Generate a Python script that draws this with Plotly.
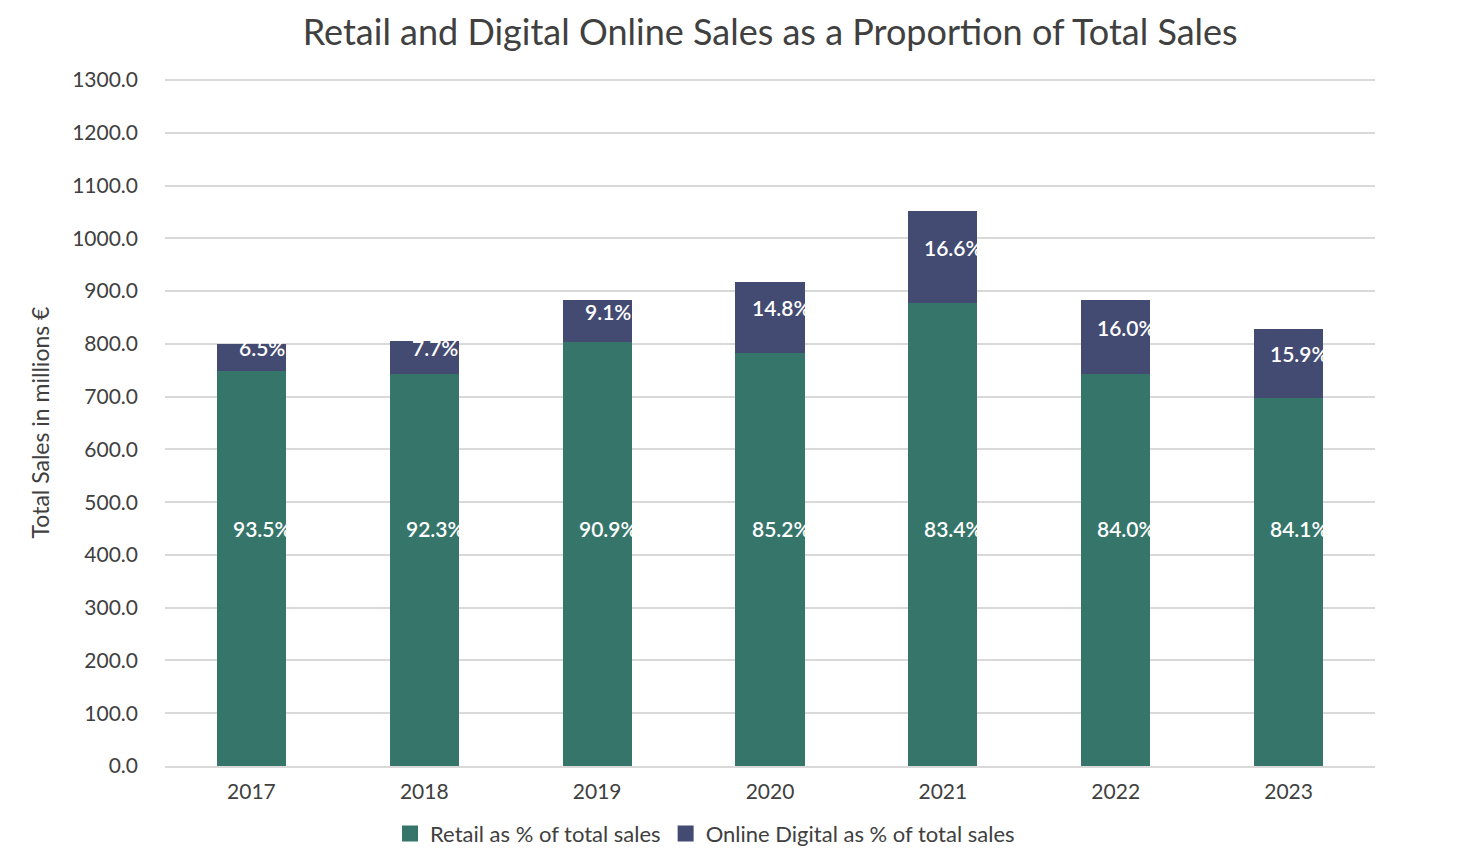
import plotly.graph_objects as go

years = ["2017", "2018", "2019", "2020", "2021", "2022", "2023"]
retail = [748, 743, 803, 782, 877, 742, 697]
online = [52, 62, 80, 136, 175, 141, 132]
retail_labels = ["93.5%", "92.3%", "90.9%", "85.2%", "83.4%", "84.0%", "84.1%"]
online_labels = ["6.5%", "7.7%", "9.1%", "14.8%", "16.6%", "16.0%", "15.9%"]
y_ticks = [i * 100 for i in range(14)]
series_names = ["Retail as % of total sales", "Online Digital as % of total sales"]

GREEN = "#35756A"
NAVY = "#444B72"
FONT = "Lato"
TXT = "#404040"

xpos = list(range(len(years)))

fig = go.Figure()
fig.add_trace(go.Bar(x=xpos, y=retail, name=series_names[0], width=0.4, showlegend=False,
                     marker=dict(color=GREEN, line=dict(width=0))))
fig.add_trace(go.Bar(x=xpos, y=online, name=series_names[1], width=0.4, showlegend=False,
                     marker=dict(color=NAVY, line=dict(width=0))))
# legend entries with larger square swatches
for name, col in zip(series_names, [GREEN, NAVY]):
    fig.add_trace(go.Scatter(x=[None], y=[None], mode="markers", name=name,
                             marker=dict(symbol="square", size=19, color=col,
                                         line=dict(width=0))))

annotations = []
lab_font = dict(family=FONT, size=21, color="white", weight=600)
for i in xpos:
    annotations.append(dict(x=i, y=450, text=retail_labels[i], showarrow=False,
                            xshift=11, font=lab_font))
    annotations.append(dict(x=i, y=retail[i] + online[i] / 2, text=online_labels[i],
                            showarrow=False, xshift=11, yshift=10, font=lab_font))

fig.update_layout(
    barmode="stack",
    width=1480, height=864,
    margin=dict(l=157, r=113, t=71, b=106),
    plot_bgcolor="white", paper_bgcolor="white",
    font=dict(family=FONT, color=TXT, size=19),
    title=dict(text="Retail and Digital Online Sales as a Proportion of Total Sales",
               x=0.515, xanchor="center", y=0.972, yanchor="middle",
               font=dict(family=FONT, size=36, color=TXT)),
    xaxis=dict(range=[-0.5, len(years) - 0.5], tickvals=xpos, ticktext=years,
               showgrid=False, zeroline=False, showline=True, linecolor="#D9D9D9",
               linewidth=1.5, ticks="", ticklabelstandoff=6,
               tickfont=dict(size=21, color=TXT)),
    yaxis=dict(range=[0, 1302], tickvals=y_ticks,
               ticktext=[f"{v:.1f}" for v in y_ticks],
               showgrid=True, gridcolor="#D9D9D9", gridwidth=1.5,
               zeroline=False, ticks="", ticklabelstandoff=26,
               tickfont=dict(size=21, color=TXT),
               title=dict(text="Total Sales in millions €", standoff=16,
                          font=dict(family=FONT, size=23, color=TXT))),
    legend=dict(orientation="h", x=0.4463, xanchor="center", y=-0.068, yanchor="top",
                font=dict(size=22, color=TXT), traceorder="normal"),
    annotations=annotations,
)

fig.write_html("out.html")
